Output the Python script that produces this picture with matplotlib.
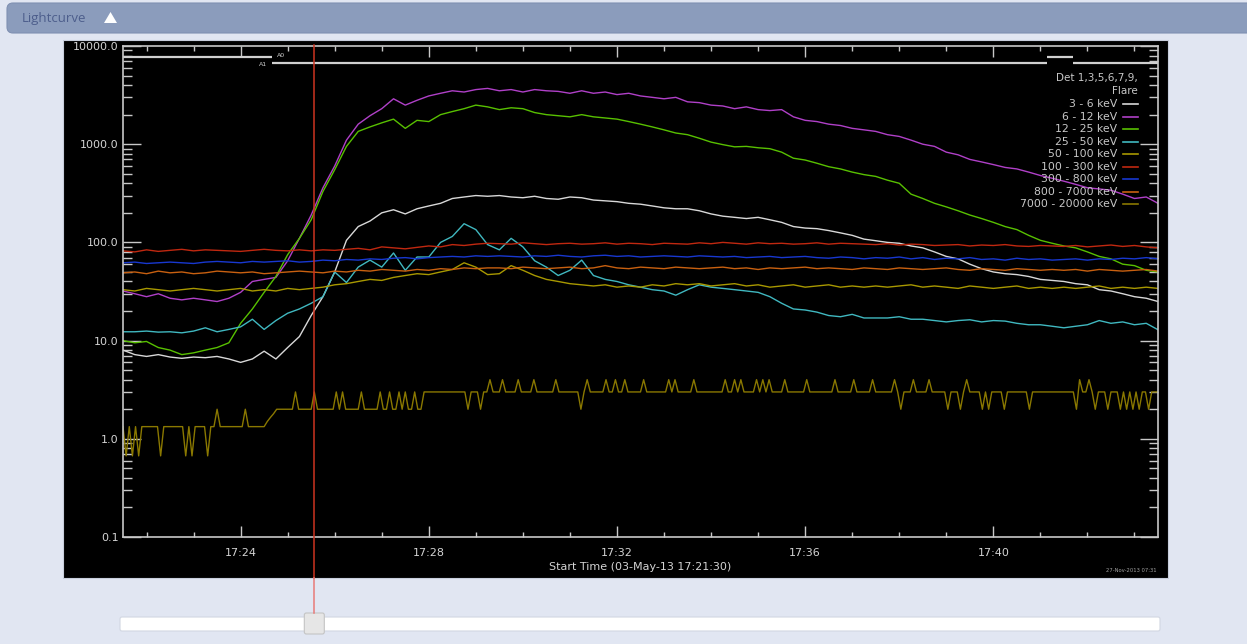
import numpy as np
import pandas as pd
import matplotlib
matplotlib.use('Agg')
import matplotlib.pyplot as plt
import matplotlib.dates as mdates
from matplotlib.ticker import LogLocator, NullFormatter, FuncFormatter
from matplotlib.patches import FancyBboxPatch, Rectangle, Polygon

W, H = 1247, 644

# ---- data ----------------------------------------------------------------
START = '2013-05-03 17:21:30'
END = '2013-05-03 17:43:30'
CURSOR = '2013-05-03 17:25:34'

bands = ['3 - 6 keV', '6 - 12 keV', '12 - 25 keV', '25 - 50 keV', '50 - 100 keV',
         '100 - 300 keV', '300 - 800 keV', '800 - 7000 keV', '7000 - 20000 keV']
colors = ['#d8d8d8', '#b040c8', '#58c000', '#40b8c0', '#a89800',
          '#c02810', '#1838d0', '#c86010', '#8a7800']

# 15 s samples, 17:21:30 -> 17:43:30
white = [8, 7.2, 6.9, 7.2, 6.8, 6.6, 6.8, 6.7, 6.9, 6.5,
         6.0, 6.5, 7.8, 6.5, 8.5, 11, 18, 28, 50, 105,
         145, 165, 200, 215, 195, 220, 235, 250, 280, 290,
         300, 295, 300, 290, 285, 295, 280, 275, 290, 285,
         270, 265, 260, 250, 245, 235, 225, 220, 220, 210,
         195, 185, 180, 175, 180, 170, 160, 145, 140, 138,
         132, 125, 118, 108, 104, 100, 98, 92, 88, 80,
         72, 68, 60, 54, 50, 48, 47, 45, 42, 41,
         40, 38, 37, 33, 32, 30, 28, 27, 25]
purple = [32, 30, 28, 30, 27, 26, 27, 26, 25, 27,
          31, 40, 42, 44, 65, 110, 190, 360, 600, 1100,
          1600, 1950, 2300, 2900, 2500, 2800, 3100, 3300, 3500, 3400,
          3600, 3700, 3500, 3600, 3400, 3600, 3500, 3450, 3300, 3500,
          3300, 3400, 3200, 3300, 3100, 3000, 2900, 3000, 2700, 2650,
          2500, 2450, 2300, 2400, 2250, 2200, 2250, 1900, 1750, 1700,
          1600, 1550, 1450, 1400, 1350, 1250, 1200, 1100, 1000, 950,
          830, 780, 700, 660, 620, 580, 560, 520, 480, 450,
          420, 390, 360, 350, 340, 310, 280, 290, 250]
green = [10, 9.5, 9.8, 8.5, 8, 7.2, 7.5, 8, 8.5, 9.5,
         15, 21, 31, 45, 75, 110, 170, 330, 550, 950,
         1350, 1500, 1650, 1800, 1450, 1750, 1700, 2000, 2150, 2300,
         2500, 2400, 2250, 2350, 2300, 2100, 2000, 1950, 1900, 2000,
         1900, 1850, 1800, 1700, 1600, 1500, 1400, 1300, 1250, 1150,
         1050, 990, 940, 950, 920, 900, 830, 720, 690, 640,
         590, 560, 520, 490, 470, 430, 400, 310, 280, 250,
         230, 210, 190, 175, 160, 145, 135, 118, 105, 98,
         92, 88, 80, 72, 68, 60, 58, 52, 50]
cyan = [12.3, 12.3, 12.5, 12.2, 12.3, 12.0, 12.5, 13.5, 12.3, 13,
        13.8, 16.5, 13, 16, 19, 21, 24, 28, 50, 39,
        56, 66, 56, 78, 52, 71, 71, 100, 115, 155,
        135, 95, 84, 110, 90, 65, 56, 46, 52, 66,
        46, 42, 40, 37, 35, 33, 32, 29, 33, 37,
        35, 34, 33, 32, 31, 28, 24, 21, 20.5, 19.5,
        18, 17.5, 18.5, 17, 17, 17, 17.5, 16.5, 16.5, 16,
        15.5, 16, 16.3, 15.5, 16, 15.8, 15, 14.5, 14.5, 14,
        13.5, 14, 14.5, 16, 15, 15.5, 14.5, 15, 12.9]
olive = [33, 32, 34, 33, 32, 33, 34, 33, 32, 33,
         34, 32, 33, 32, 34, 33, 34, 35, 37, 38,
         40, 42, 41, 44, 46, 48, 47, 50, 53, 62,
         56, 47, 48, 58, 52, 46, 42, 40, 38, 37,
         36, 37, 35, 36, 35, 37, 36, 38, 37, 38,
         36, 37, 38, 36, 37, 35, 36, 37, 35, 36,
         37, 35, 36, 35, 36, 35, 36, 37, 35, 36,
         35, 34, 36, 35, 34, 35, 36, 34, 35, 34,
         35, 34, 35, 36, 34, 35, 34, 35, 34]
red = [82, 80, 84, 81, 83, 85, 82, 84, 83, 82,
       81, 83, 85, 83, 82, 84, 82, 84, 83, 85,
       87, 84, 90, 88, 86, 89, 92, 90, 95, 93,
       96, 98, 97, 96, 99, 97, 95, 97, 98, 96,
       97, 99, 96, 98, 97, 95, 98, 97, 96, 99,
       97, 100, 98, 96, 99, 97, 98, 96, 97, 99,
       96, 98, 97, 96, 95, 97, 94, 96, 95, 93,
       94, 95, 92, 94, 93, 95, 92, 91, 93, 92,
       91, 93, 90, 92, 94, 91, 93, 90, 88]
blue = [62, 63, 61, 62, 63, 62, 61, 63, 64, 63,
        62, 64, 63, 64, 65, 63, 64, 66, 65, 67,
        66, 68, 67, 69, 70, 68, 70, 71, 72, 71,
        73, 72, 73, 72, 71, 73, 72, 74, 72, 71,
        73, 74, 72, 73, 71, 72, 73, 72, 71, 73,
        72, 71, 72, 70, 71, 72, 70, 71, 72, 70,
        69, 71, 70, 68, 70, 69, 71, 68, 70, 67,
        69, 68, 70, 67, 68, 66, 69, 67, 68, 66,
        67, 68, 66, 68, 67, 69, 68, 70, 68]
orange = [49, 50, 48, 51, 49, 50, 48, 49, 51, 50,
          49, 50, 48, 49, 50, 51, 50, 49, 51, 50,
          52, 51, 53, 52, 51, 53, 52, 54, 53, 55,
          54, 55, 55, 54, 56, 55, 54, 55, 56, 54,
          55, 58, 55, 54, 56, 55, 54, 56, 55, 54,
          55, 56, 54, 55, 53, 55, 54, 55, 56, 54,
          55, 54, 53, 55, 54, 53, 55, 54, 53, 54,
          55, 53, 52, 54, 53, 52, 54, 53, 52, 53,
          52, 53, 51, 53, 52, 51, 52, 53, 51]

# 7000-20000 keV, 4 s bins, coded count levels
level_values = {'0': 0.67, '1': 1.33, 'a': 1.5, 'b': 1.65, 'c': 1.8,
                '2': 2.0, '3': 3.0, '4': 4.0}
top_band_codes = (
    '1010101111' '1101111111' '0101111011' '2111111112' '111111abc2'
    '2222232222' '2322222232' '3222223222' '2232232232' '3223223333'
    '3333333333' '2333233433' '3433334333' '3433333343' '3333332343'
    '3333433433' '4333334333' '3333434333' '3343333333' '3343343433'
    '3343434333' '3433333343' '3333333433' '3334333334' '3333334323'
    '3343333433' '3332333234' '3333232333' '3233333332' '3333333333'
    '3333243343' '2333233323' '23232332333'
)

atten_times = ['17:21:30', '17:24:40', '17:41:09', '17:41:41', '17:43:30']
atten_state = ['A0', 'A1', 'A0', 'A1']

# ---- figure --------------------------------------------------------------
t15 = pd.date_range(START, periods=len(white), freq='15s')
t4 = pd.date_range(START, periods=len(top_band_codes), freq='4s')
top_band = [level_values[c] for c in top_band_codes]

fig = plt.figure(figsize=(W / 100, H / 100), dpi=100, facecolor='#e1e6f2')

bg = fig.add_axes([0, 0, 1, 1], zorder=0)
bg.set_xlim(0, W)
bg.set_ylim(H, 0)
bg.axis('off')
bg.add_patch(FancyBboxPatch((7, 3), 1260, 30, boxstyle='round,pad=0,rounding_size=6',
                            fc='#8b9cbc', ec='#7f90b2', lw=0.8))
bg.text(22, 18.5, 'Lightcurve', fontsize=9.5, color='#4d5e8c', va='center',
        family='Open Sans')
bg.add_patch(Polygon([(104, 23), (117, 23), (110.5, 12)], closed=True, fc='white', ec='none'))
bg.add_patch(Rectangle((63, 40), 1105, 538, fc='black', ec='#c8cedc', lw=0.8))
bg.text(1131, 571, '27-Nov-2013 07:31', fontsize=3.8, color='#a0a0a0', ha='center', va='center')

ax = fig.add_axes([123 / W, 1 - 537 / H, (1158 - 123) / W, (537 - 46) / H], zorder=1)
ax.set_facecolor('black')

series = [white, purple, green, cyan, olive, red, blue, orange]
for vals, col in zip(series, colors[:8]):
    ax.plot(t15, vals, color=col, lw=1.0)
ax.plot(t4, top_band, color=colors[8], lw=1.0)

ax.set_yscale('log')
ax.set_ylim(0.1, 10000)
ax.set_xlim(pd.Timestamp(START), pd.Timestamp(END))
ax.yaxis.set_major_locator(LogLocator(base=10, numticks=10))
ax.yaxis.set_major_formatter(FuncFormatter(lambda v, p: '%.1f' % v))
ax.yaxis.set_minor_locator(LogLocator(base=10, subs=range(2, 10), numticks=20))
ax.yaxis.set_minor_formatter(NullFormatter())
ax.xaxis.set_major_locator(mdates.MinuteLocator(byminute=range(0, 60, 4)))
ax.xaxis.set_minor_locator(mdates.MinuteLocator())
ax.xaxis.set_major_formatter(mdates.DateFormatter('%H:%M'))

gray = '#c8c8c8'
for s in ax.spines.values():
    s.set_color(gray)
    s.set_linewidth(1.2)
ax.tick_params(axis='y', which='major', direction='in', length=13, width=1, left=True,
               right=True, color=gray, labelcolor='#d4d4d4', labelsize=8, pad=3)
ax.tick_params(axis='y', which='minor', direction='in', length=6.5, width=1, left=True,
               right=True, color=gray)
ax.tick_params(axis='x', which='major', direction='in', length=8, width=1, top=True,
               bottom=True, color=gray, labelcolor='#d4d4d4', labelsize=8, pad=8)
ax.tick_params(axis='x', which='minor', direction='in', length=3.5, width=1, top=True,
               bottom=True, color=gray)
ax.set_xlabel('Start Time (03-May-13 17:21:30)', color='#d4d4d4', fontsize=8, labelpad=3)

# attenuator state bars
xt = ax.get_xaxis_transform()
ypos = {'A0': 0.978, 'A1': 0.9655}
atx = [pd.Timestamp('2013-05-03 ' + s) for s in atten_times]
for i, st in enumerate(atten_state):
    ax.plot([atx[i], atx[i + 1]], [ypos[st], ypos[st]], color='#d0d0d0', lw=1.6,
            transform=xt, solid_capstyle='butt')
ax.text(atx[1] + pd.Timedelta(seconds=6), 0.9805, 'A0', transform=xt, fontsize=4.5,
        color='#d0d0d0', va='center')
ax.text(atx[1] - pd.Timedelta(seconds=6), 0.963, 'A1', transform=xt, fontsize=4.5,
        color='#d0d0d0', va='center', ha='right')

# legend, right aligned text with short line to its right
legend_ax = fig.add_axes([0, 0, 1, 1], zorder=2)
legend_ax.set_xlim(0, W)
legend_ax.set_ylim(H, 0)
legend_ax.axis('off')
legend_ax.text(1138, 78, 'Det 1,3,5,6,7,9,', fontsize=7.5, color=gray, ha='right', va='center')
legend_ax.text(1138, 91, 'Flare', fontsize=7.5, color=gray, ha='right', va='center')
for i, (lab, col) in enumerate(zip(bands, colors)):
    y = 104 + i * 12.5
    legend_ax.text(1117, y, lab, fontsize=7.8, color=gray, ha='right', va='center')
    legend_ax.plot([1123, 1138], [y, y], color=col, lw=1.2)

# time cursor and slider
cx = ax.transData.transform((mdates.date2num(pd.Timestamp(CURSOR)), 1))[0]
ov = fig.add_axes([0, 0, 1, 1], zorder=3)
ov.set_xlim(0, W)
ov.set_ylim(H, 0)
ov.axis('off')
ov.add_patch(FancyBboxPatch((120, 617), 1040, 14, boxstyle='round,pad=0,rounding_size=2',
                            fc='white', ec='#d2d7e2', lw=0.8))
ov.plot([cx, cx], [45, 578], color='#cc3420', lw=1.1)
ov.plot([cx, cx], [578, 613], color='#e87a78', lw=1.1)
ov.add_patch(FancyBboxPatch((cx - 10, 613), 20, 21, boxstyle='round,pad=0,rounding_size=2',
                            fc='#e6e6e6', ec='#c4c4c4', lw=0.8))

fig.savefig('out.png', dpi=100, facecolor=fig.get_facecolor())
